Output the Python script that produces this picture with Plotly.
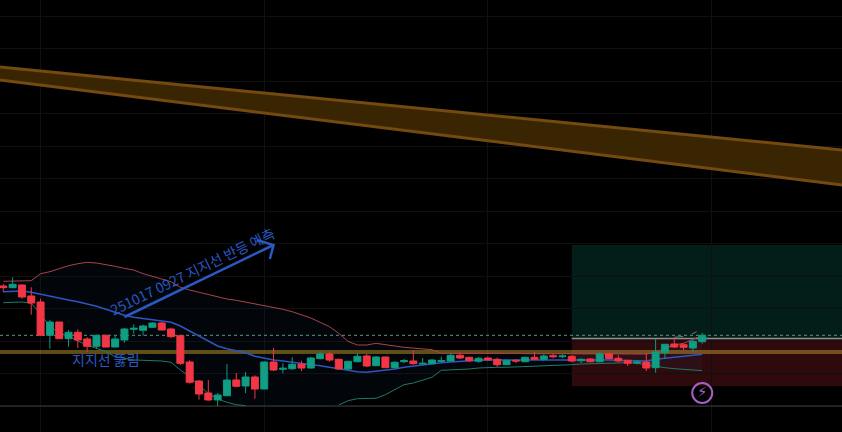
import plotly.graph_objects as go

# 캔들 데이터
opens = [146, 144.3, 147, 136, 130, 96.7, 110, 93.3, 99.7, 93, 85.7, 96.7, 85, 92, 102.7, 101.7, 104.7, 109, 103, 96.3,
         70, 51, 39, 32, 36.3, 52, 46, 55, 43, 70, 62.7, 63.3, 68, 64, 73.3, 78, 72.7, 63, 70.3, 76,
         66.3, 75, 64.3, 70.3, 71, 68, 68.3, 70.7, 71, 76.7, 74.7, 70.7, 74, 72.7, 67.3, 71.7, 70.3, 74.7, 72.7, 76.3,
         75.3, 75.7, 71.3, 73, 70.3, 78, 73.7, 71.7, 69, 70, 64.3, 79.3, 88, 87.3, 84, 90.3]
highs = [148, 154.7, 147.7, 144.7, 133.3, 112, 110, 102, 102.7, 94.7, 96.7, 97.3, 96.7, 104, 107.7, 107.3, 109.7, 110, 104.3, 97.3,
         71.7, 52, 52, 39, 68, 59, 60, 56.7, 70.7, 84, 68.7, 74.7, 71.3, 75.3, 80.7, 79.7, 73.3, 71.3, 79, 78,
         76, 75.3, 70.7, 73, 82, 74, 72.7, 75.3, 78.3, 79.3, 75.3, 75.3, 75.3, 74.3, 72.3, 73, 75.3, 80, 77.7, 78.3,
         77.7, 77, 74, 74, 79.7, 78.7, 76.7, 72, 71.7, 78.7, 93.3, 88, 94.3, 88.7, 94.3, 99]
lows = [140, 144, 133.3, 117.3, 96, 83.3, 93.3, 85.3, 84, 80.3, 83.3, 84.7, 84.7, 89.3, 98.3, 96.3, 104, 101.7, 94.3, 67,
        48.3, 32.3, 31.3, 26, 36.3, 44.7, 39, 33.3, 42.7, 61, 58.7, 62, 61, 63.3, 72.7, 70.3, 62.7, 61.7, 69.7, 65,
        65.7, 64, 63.7, 68.7, 67.3, 67.3, 67.7, 69.7, 70.3, 73, 70, 69.3, 71.3, 65, 67, 69, 69.7, 72, 71, 73.7,
        73.7, 69.7, 69, 69.7, 69.7, 72.7, 69.7, 66, 67.7, 61, 59.3, 73, 84, 82, 80.3, 88.3]
closes = [144.3, 147.7, 135, 129, 96.7, 110, 93.3, 99.7, 92, 85.7, 96.7, 85, 93, 103, 103.7, 106, 109, 102, 95.3, 68.7,
          49.7, 38, 32, 37, 52, 45.7, 55, 43, 70, 62, 63.7, 67.7, 64, 74, 78, 72, 63, 70.7, 75.7, 66,
          75, 64.3, 69.7, 71.3, 68.3, 68.7, 72, 71.3, 76.7, 74, 71.3, 73.7, 72, 67.3, 71.7, 71, 74.7, 72.7, 76, 75.3,
          76, 71, 72.7, 70.3, 78, 73.3, 71, 68.7, 70, 64, 80, 87.7, 85, 84.7, 90.7, 96.7]

# 볼린저 밴드
bb_upper = [150.7, 151, 151.3, 151.3, 158.3, 160.3, 163.3, 166.3, 168.3, 169.7, 169, 167.7, 165.7, 163.7, 162, 158.3, 155.3, 153, 150.3, 144.7,
            142, 139.7, 137.3, 135, 133, 131.7, 130, 128.3, 126.7, 125, 122.7, 120.3, 117.3, 114, 109.7, 105.3, 98.7, 90.7, 87, 87,
            88.7, 87.7, 86, 84.7, 84, 83, 82.3, 78.7, 78.7, 78.7, 79, 79.3, 79.3, 79, 78.7, 78.7, 78.3, 78.3, 78, 78,
            78, 78.5, 78.3, 78.3, 78, 78, 78, 78, 78, 78, 79.7, 83.7, 87, 88.7, 92.7, 96.7]
bb_mid = [140.3, 141, 141, 139.7, 137.7, 135.3, 133.7, 132, 130.3, 128.3, 125.7, 122.7, 119.3, 116.7, 114.7, 113.3, 112.3, 111, 109.7, 106,
          101, 95.3, 90.3, 86, 83.3, 81.3, 79.3, 75.7, 73.7, 72, 71, 70, 69, 67.7, 66.3, 64.7, 63, 61.7, 60.3, 59.7,
          60.7, 61.7, 63, 64.7, 66, 67.3, 68.7, 69.3, 70, 70.7, 71.3, 71.7, 72, 72, 72, 72, 72.3, 72.3, 72.7, 72.7,
          72.7, 72.7, 72.7, 72.3, 72, 72, 71.7, 71.3, 71, 71, 72.7, 73.7, 74.7, 75.3, 76.7, 77.7]
bb_lower = [129.3, 130, 130, 128.7, 118, 105.3, 99.3, 95.3, 91, 86.7, 83.7, 80.3, 75.3, 73.3, 72, 71.7, 71.3, 71, 69.7, 62,
            55.3, 46.3, 38.7, 33, 29.7, 27.3, 26.3, None, None, None, None, None, None, None, None, None, 27, 31.3, 33.3, 33.3,
            33.7, 37.3, 42, 47.3, 49, 51.7, 54.7, 61.7, 62, 62.3, 63, 64, 64.7, 64.7, 64.7, 65, 65.7, 65.7, 66, 66.3,
            67, 67.3, 68, 68.3, 68.7, 69, 69.3, 69.3, 68.7, 67.3, 65.3, 64.3, 63.3, 62.7, 62, 61.3]
bars = list(range(len(closes)))

# 작도 레벨
x_left, x_right = -0.354, 90
channel_top = [365, 282]
channel_bottom = [352, 247]
support_level = 80
last_price = 96.7
entry_level = 93.5
target_level = 187
stop_level = 46
panel_floor = 26
projection_x = [72, 73.4, 74.4]
projection_y = [94.7, 96, 100.3]
arrow_x = [13, 29]
arrow_y = [115, 187]
arrow_head_x = [27.2, 29, 28.6]
arrow_head_y = [192, 187, 173]

BLUE = "#2a58c4"

fig = go.Figure()

# 하락 채널
fig.add_trace(go.Scatter(x=[x_left, x_right, x_right, x_left], y=channel_top + channel_bottom[::-1],
                         fill="toself", fillcolor="#3a2503", mode="none"))
for level in [channel_top, channel_bottom]:
    fig.add_trace(go.Scatter(x=[x_left, x_right], y=level, mode="lines", line=dict(color="#744a10", width=3)))

# 밴드 영역
floored = [v if v is not None else panel_floor for v in bb_lower]
fig.add_trace(go.Scatter(x=bars + bars[::-1], y=bb_upper + floored[::-1], fill="toself",
                         fillcolor="rgba(30,90,160,0.07)", mode="none"))

# 수평선
for level, color, width, dash in [
    (panel_floor, "#3c3c3c", 1, "solid"),
    (support_level, "rgba(190,150,40,0.5)", 4, "solid"),
    (last_price, "#5f9488", 1, "dot"),
]:
    fig.add_trace(go.Scatter(x=[x_left, x_right], y=[level, level], mode="lines",
                             line=dict(color=color, width=width, dash=dash)))
fig.add_trace(go.Scatter(x=[61, x_right], y=[entry_level, entry_level], mode="lines",
                         line=dict(color="#8f8f8f", width=1.5)))

fig.add_trace(go.Scatter(x=bars, y=bb_upper, mode="lines", line=dict(color="#a8444a", width=1)))
fig.add_trace(go.Scatter(x=bars, y=bb_mid, mode="lines", line=dict(color="#2f55c0", width=1.5)))
fig.add_trace(go.Scatter(x=bars, y=bb_lower, mode="lines", line=dict(color="#1f7a66", width=1)))
fig.add_trace(go.Scatter(x=projection_x, y=projection_y, mode="lines",
                         line=dict(color="#5f7f78", width=1, dash="dash")))

# 화살표
fig.add_trace(go.Scatter(x=arrow_x, y=arrow_y, mode="lines", line=dict(color=BLUE, width=2.5)))
fig.add_trace(go.Scatter(x=arrow_head_x, y=arrow_head_y, mode="lines", line=dict(color=BLUE, width=2.5)))

# 캔들은 위쪽 축에 그려서 밴드보다 앞으로
fig.add_trace(go.Candlestick(
    x=bars, open=opens, high=highs, low=lows, close=closes,
    xaxis="x2", yaxis="y2", whiskerwidth=0,
    increasing=dict(line=dict(color="#0d9a80", width=1), fillcolor="#129e84"),
    decreasing=dict(line=dict(color="#f23645", width=1), fillcolor="#f23645"),
))

# 번개 아이콘
fig.add_trace(go.Scatter(x=[75], y=[39], mode="markers+text", text=["⚡"], textposition="middle center",
                         textfont=dict(family="DejaVu Sans", size=15, color="#a65fc4"),
                         marker=dict(symbol="circle-open", size=20, color="#a65fc4", line=dict(width=2, color="#a65fc4")),
                         xaxis="x2", yaxis="y2"))

fig.add_annotation(x=20.3, y=161, text="251017 0927 지지선 반등 예측", textangle=-25.8, showarrow=False,
                   font=dict(family="Noto Sans CJK KR", size=14, color=BLUE))
fig.add_annotation(x=11, y=73, text="지지선 뚫림", showarrow=False,
                   font=dict(family="Noto Sans CJK KR", size=14, color=BLUE))

# 목표/손절 박스
fig.add_shape(type="rect", x0=61, x1=x_right, y0=entry_level, y1=target_level, layer="below",
              line_width=0, fillcolor="rgba(18,158,132,0.18)")
fig.add_shape(type="rect", x0=61, x1=x_right, y0=stop_level, y1=entry_level, layer="below",
              line_width=0, fillcolor="rgba(242,54,69,0.19)")

axis_x = dict(range=[x_left, x_right], showticklabels=False, zeroline=False, ticks="")
axis_y = dict(range=[0, 432], showticklabels=False, zeroline=False, ticks="")
fig.update_layout(
    width=842, height=432, margin=dict(l=0, r=0, t=0, b=0),
    paper_bgcolor="#000000", plot_bgcolor="#000000", showlegend=False, boxgap=0.25, boxgroupgap=0,
    xaxis=dict(axis_x, showgrid=True, gridcolor="#101010", gridwidth=1, tick0=4, dtick=24),
    yaxis=dict(axis_y, showgrid=True, gridcolor="#101010", gridwidth=1, tick0=26, dtick=32.5),
    xaxis2=dict(axis_x, overlaying="x", showgrid=False, rangeslider=dict(visible=False)),
    yaxis2=dict(axis_y, overlaying="y", showgrid=False),
)

# 페이지 기본 여백 제거
fig.write_html("out.html", config=dict(displayModeBar=False),
               post_script="document.body.style.margin='0';document.body.style.background='#000';")
